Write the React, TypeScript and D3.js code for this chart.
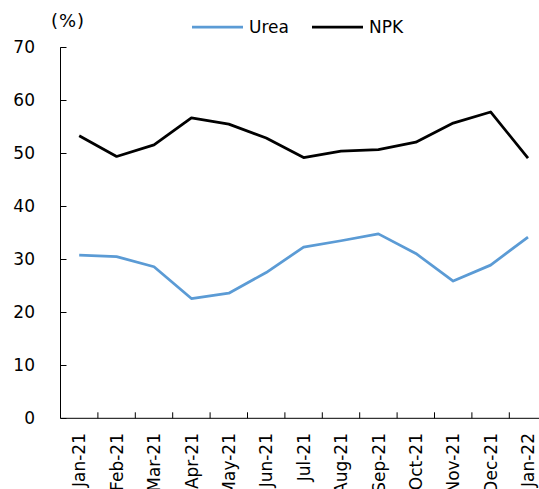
import React, { useEffect, useRef } from 'react';
import * as d3 from 'd3';

// categories and series
const months = ['Jan-21', 'Feb-21', 'Mar-21', 'Apr-21', 'May-21', 'Jun-21', 'Jul-21', 'Aug-21', 'Sep-21', 'Oct-21', 'Nov-21', 'Dec-21', 'Jan-22'];
const urea = [30.8, 30.5, 28.6, 22.6, 23.6, 27.5, 32.3, 33.5, 34.8, 31.1, 25.9, 28.9, 34.2];
const npk = [53.3, 49.4, 51.6, 56.7, 55.5, 52.9, 49.2, 50.4, 50.7, 52.1, 55.7, 57.8, 49.1];
const yTicks = [0, 10, 20, 30, 40, 50, 60, 70];

const FONT = '"DejaVu Sans", Verdana, sans-serif';

export default function App() {
  const svgRef = useRef<SVGSVGElement>(null);

  useEffect(() => {
    const svg = d3.select(svgRef.current);
    svg.selectAll('*').remove();

    const left = 60.5;
    const bottom = 418.3;

    const x = d3.scaleBand().domain(months).range([left, left + 13 * 37.4]);
    const y = d3.scaleLinear().domain([0, 70]).range([bottom, 47.3]);

    // y axis line and inward ticks
    svg.append('line')
      .attr('x1', left).attr('x2', left)
      .attr('y1', y(70)).attr('y2', bottom)
      .attr('stroke', '#000').attr('stroke-width', 1);

    svg.selectAll('.ytick')
      .data(yTicks)
      .enter()
      .append('line')
      .attr('x1', left).attr('x2', left + 6)
      .attr('y1', d => Math.round(y(d)) + 0.5).attr('y2', d => Math.round(y(d)) + 0.5)
      .attr('stroke', '#000');

    svg.selectAll('.ylabel')
      .data(yTicks)
      .enter()
      .append('text')
      .attr('x', 35)
      .attr('y', d => y(d))
      .attr('dy', '0.36em')
      .attr('text-anchor', 'end')
      .attr('font-family', FONT)
      .attr('font-size', '17px')
      .attr('fill', '#000')
      .text(d => d);

    // x axis line and ticks at band boundaries
    svg.append('line')
      .attr('x1', left).attr('x2', 539)
      .attr('y1', bottom).attr('y2', bottom)
      .attr('stroke', '#000');

    svg.selectAll('.xtick')
      .data(months)
      .enter()
      .append('line')
      .attr('x1', (d, i) => left + (i + 1) * x.step())
      .attr('x2', (d, i) => left + (i + 1) * x.step())
      .attr('y1', bottom).attr('y2', bottom - 6)
      .attr('stroke', '#000');

    svg.selectAll('.xlabel')
      .data(months)
      .enter()
      .append('text')
      .attr('transform', d => `translate(${x(d)! + x.bandwidth() / 2}, 433) rotate(-90)`)
      .attr('dy', '0.36em')
      .attr('text-anchor', 'end')
      .attr('font-family', FONT)
      .attr('font-size', '17px')
      .attr('fill', '#000')
      .text(d => d);

    // lines
    const line = d3.line<number>()
      .x((d, i) => x(months[i])! + x.bandwidth() / 2)
      .y(d => y(d));

    svg.append('path')
      .datum(urea)
      .attr('d', line)
      .attr('fill', 'none')
      .attr('stroke', '#5b9bd5')
      .attr('stroke-width', 2.75)
      .attr('stroke-linejoin', 'round');

    svg.append('path')
      .datum(npk)
      .attr('d', line)
      .attr('fill', 'none')
      .attr('stroke', '#000')
      .attr('stroke-width', 2.75)
      .attr('stroke-linejoin', 'round');

    // unit label
    svg.append('text')
      .attr('x', 68)
      .attr('y', 27)
      .attr('text-anchor', 'middle')
      .attr('font-family', FONT)
      .attr('font-size', '18px')
      .attr('letter-spacing', '1px')
      .text('(%)');

    // legend
    const legend = [
      { name: 'Urea', color: '#5b9bd5', x: 192 },
      { name: 'NPK', color: '#000', x: 312 }
    ];
    const items = svg.selectAll('.legend')
      .data(legend)
      .enter()
      .append('g')
      .attr('transform', d => `translate(${d.x}, 27)`);
    items.append('line')
      .attr('x1', 0).attr('x2', 51)
      .attr('stroke', d => d.color)
      .attr('stroke-width', 2.75);
    items.append('text')
      .attr('x', 57)
      .attr('dy', '0.36em')
      .attr('font-family', FONT)
      .attr('font-size', '17px')
      .text(d => d.name);
  }, []);

  return (
    <svg
      ref={svgRef}
      width={539}
      height={489}
      style={{ position: 'absolute', left: 0, top: 0, background: '#fff' }}
    />
  );
}
